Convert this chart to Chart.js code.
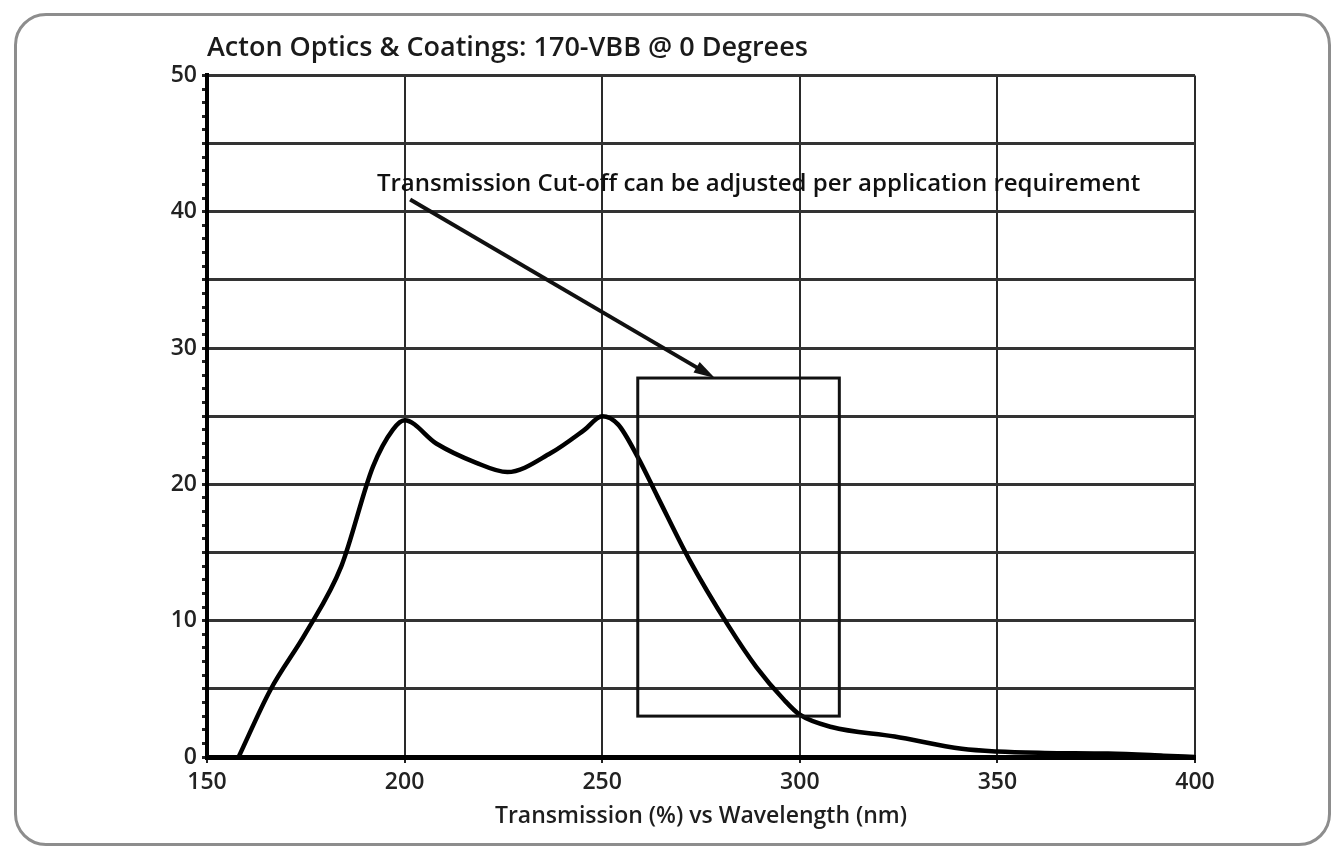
<!DOCTYPE html>
<html>
<head>
<meta charset="utf-8">
<script src="https://cdn.jsdelivr.net/npm/chart.js@4.4.1/dist/chart.umd.min.js"></script>
<style>
html, body { margin: 0; padding: 0; background: #fff; overflow: hidden; }
#wrap { position: relative; width: 1332px; height: 846px; }
#frame {
    position: absolute; left: 14px; top: 13px;
    width: 1311px; height: 827px;
    border: 3px solid #8d8d8d; border-radius: 32px;
    pointer-events: none;
}
</style>
</head>
<body>
<div id="wrap">
    <canvas id="chart"></canvas>
    <div id="frame"></div>
</div>
<script>
// curve, wavelength in nm, transmission in %
const wavelength = [158, 166, 175, 184, 192, 197, 200, 208, 218, 226, 237, 245.5, 250, 254, 259, 264, 272, 282, 289, 296, 300, 308, 324, 341, 350, 362, 378, 392, 400]
const transmission = [0, 4.9, 9.1, 14.0, 21.3, 24.0, 24.7, 23.0, 21.6, 20.9, 22.3, 24.0, 25.0, 24.4, 22.0, 19.1, 14.5, 9.6, 6.6, 4.2, 3.1, 2.2, 1.5, 0.6, 0.4, 0.3, 0.25, 0.1, 0]

const xTicks = [150, 200, 250, 300, 350, 400]
const yTicks = [0, 10, 20, 30, 40, 50]

const titleText = "Acton Optics & Coatings: 170-VBB @ 0 Degrees"
const xTitle = "Transmission (%) vs Wavelength (nm)"

// annotation, in data units
const noteText = "Transmission Cut-off can be adjusted per application requirement"
const noteAt = [193, 42.0]
const arrowFrom = [201.4, 40.9]
const arrowTo = [278.5, 27.8]
const boxX = [259, 310]
const boxY = [3, 27.8]

Chart.defaults.font.family = "'Open Sans', sans-serif"
Chart.defaults.font.weight = "600"
Chart.defaults.color = "#1e1e1e"

const points = wavelength.map((w, i) => ({ x: w, y: transmission[i] }))

const cutoffNote = {
    id: "cutoffNote",
    afterDatasetsDraw(chart) {
        const { ctx, scales: { x, y } } = chart
        ctx.save()
        ctx.strokeStyle = "#111"
        ctx.fillStyle = "#111"

        // box round the cut-off region
        const bx0 = x.getPixelForValue(boxX[0])
        const bx1 = x.getPixelForValue(boxX[1])
        const by0 = y.getPixelForValue(boxY[1])
        const by1 = y.getPixelForValue(boxY[0])
        ctx.lineWidth = 3
        ctx.strokeRect(bx0, by0, bx1 - bx0, by1 - by0)

        // arrow
        const ax0 = x.getPixelForValue(arrowFrom[0])
        const ay0 = y.getPixelForValue(arrowFrom[1])
        const ax1 = x.getPixelForValue(arrowTo[0])
        const ay1 = y.getPixelForValue(arrowTo[1])
        const ang = Math.atan2(ay1 - ay0, ax1 - ax0)
        const head = 22
        ctx.lineWidth = 4
        ctx.beginPath()
        ctx.moveTo(ax0, ay0)
        ctx.lineTo(ax1 - Math.cos(ang) * head * 0.8, ay1 - Math.sin(ang) * head * 0.8)
        ctx.stroke()
        ctx.beginPath()
        ctx.moveTo(ax1, ay1)
        ctx.lineTo(ax1 - head * Math.cos(ang - 0.28), ay1 - head * Math.sin(ang - 0.28))
        ctx.lineTo(ax1 - head * Math.cos(ang + 0.28), ay1 - head * Math.sin(ang + 0.28))
        ctx.closePath()
        ctx.fill()

        // label
        ctx.font = "600 24px 'Open Sans', sans-serif"
        ctx.textBaseline = "middle"
        ctx.textAlign = "left"
        ctx.fillText(noteText, x.getPixelForValue(noteAt[0]), y.getPixelForValue(noteAt[1]))
        ctx.restore()
    }
}

new Chart(document.getElementById("chart"), {

    type: "line",

    data: {
        datasets: [{
            data: points,
            borderColor: "#000",
            borderWidth: 4.5,
            pointRadius: 0,
            cubicInterpolationMode: "monotone",
            fill: false
        }]
    },

    options: {
        responsive: true,
        maintainAspectRatio: false,
        animation: false,
        layout: { padding: { left: 0, right: 137, top: 0, bottom: 0 } },

        plugins: {
            legend: { display: false },
            tooltip: { enabled: false },
            title: {
                display: true,
                text: titleText,
                align: "start",
                fullSize: false,
                color: "#1a1a1a",
                font: { size: 27, weight: "600" },
                padding: { top: 32, bottom: 11 }
            }
        },

        scales: {
            x: {
                type: "linear",
                min: 150,
                max: 400,
                afterFit: s => { s.height = 89 },
                afterBuildTicks: s => { s.ticks = xTicks.map(v => ({ value: v })) },
                ticks: {
                    font: { size: 23 },
                    color: "#222",
                    padding: 6
                },
                grid: {
                    color: c => c.tick && c.tick.value === 150 ? "rgba(0,0,0,0)" : "#2a2a2a",
                    lineWidth: 2,
                    tickLength: 6,
                    tickColor: "#222"
                },
                border: { color: "#000", width: 5 },
                title: {
                    display: true,
                    text: xTitle,
                    color: "#1e1e1e",
                    font: { size: 23 },
                    padding: { top: 2, bottom: 16 }
                }
            },
            y: {
                min: 0,
                max: 50,
                afterFit: s => { s.width = 207 },
                ticks: {
                    stepSize: 1,
                    autoSkip: false,
                    maxTicksLimit: 60,
                    font: { size: 23 },
                    color: "#222",
                    padding: 5,
                    callback: v => yTicks.includes(v) ? v : ""
                },
                grid: {
                    color: c => c.tick && c.tick.value % 5 === 0 && c.tick.value !== 0 ? "#333" : "rgba(0,0,0,0)",
                    lineWidth: 3,
                    tickLength: 5,
                    tickColor: "#222"
                },
                border: { color: "#000", width: 4 }
            }
        }
    },

    plugins: [cutoffNote]
})
</script>
</body>
</html>
